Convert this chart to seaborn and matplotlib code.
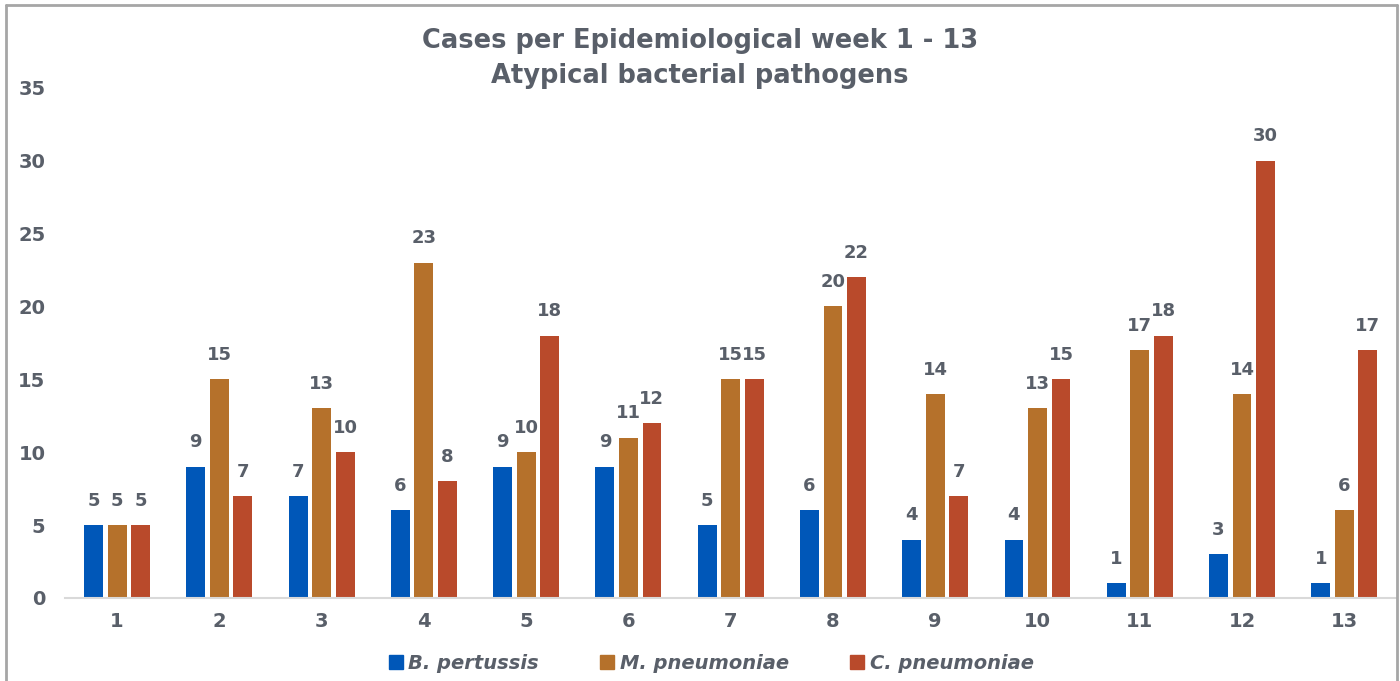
import pandas as pd
import numpy as np
import matplotlib.pyplot as plt
import seaborn as sns
from matplotlib.lines import Line2D

sns.set_theme(style="white")
plt.rcParams['font.family'] = ['DejaVu Sans']

# --- data ---
weeks = [str(w) for w in range(1, 14)]
b_pertussis = [5, 9, 7, 6, 9, 9, 5, 6, 4, 4, 1, 3, 1]
m_pneumoniae = [5, 15, 13, 23, 10, 11, 15, 20, 14, 13, 17, 14, 6]
c_pneumoniae = [5, 7, 10, 8, 18, 12, 15, 22, 7, 15, 18, 30, 17]
series_names = ["B. pertussis", "M. pneumoniae", "C. pneumoniae"]
colors = ["#0057B8", "#B5712B", "#B94A2B"]
text_col = "#595F69"

df = pd.DataFrame({
    "week": weeks * 3,
    "cases": b_pertussis + m_pneumoniae + c_pneumoniae,
    "pathogen": np.repeat(series_names, len(weeks)),
})

fig = plt.figure(figsize=(14, 6.81), dpi=100)
ax = fig.add_axes([0.0464, 0.122, 0.951, 0.749])

sns.barplot(data=df, x="week", y="cases", hue="pathogen", palette=colors,
            width=0.69, gap=0.2, saturation=1, linewidth=0, ax=ax, legend=False)

for cont in ax.containers:
    ax.bar_label(cont, padding=11, fontsize=13, fontweight='bold', color=text_col)

ax.set_ylim(0, 35)
ax.set_xlim(-0.51, 12.51)
ax.set_yticks(range(0, 36, 5))
ax.set_xlabel("")
ax.set_ylabel("")
for s in ["top", "right", "left"]:
    ax.spines[s].set_visible(False)
ax.spines["bottom"].set_color("#D9D9D9")
ax.spines["bottom"].set_linewidth(1.5)
ax.tick_params(axis='both', length=0, labelsize=14, labelcolor=text_col)
ax.tick_params(axis='y', pad=14)
ax.tick_params(axis='x', pad=10)
for lbl in ax.get_xticklabels() + ax.get_yticklabels():
    lbl.set_fontweight('bold')

fig.text(0.5, 0.94, "Cases per Epidemiological week 1 - 13", ha='center', va='center',
         fontsize=18.5, fontweight='bold', color=text_col)
fig.text(0.5, 0.888, "Atypical bacterial pathogens", ha='center', va='center',
         fontsize=18.5, fontweight='bold', color=text_col)

handles = [Line2D([], [], marker='s', linestyle='', markersize=10, color=c) for c in colors]
leg = fig.legend(handles, series_names, loc='center', bbox_to_anchor=(0.507, 0.026),
                 ncol=3, frameon=False, handletextpad=0.15, handlelength=1.0,
                 columnspacing=3.0,
                 prop={'size': 14, 'weight': 'bold', 'style': 'italic'})
for t in leg.get_texts():
    t.set_color(text_col)

# figure frame
for xs, ys in [([0.0045, 0.0045], [0, 0.993]), ([0.9975, 0.9975], [0, 0.993]),
               ([0.0045, 0.9975], [0.993, 0.993])]:
    fig.add_artist(Line2D(xs, ys, color="#A6A6A6", linewidth=2))

fig.savefig("out.png", dpi=100)
